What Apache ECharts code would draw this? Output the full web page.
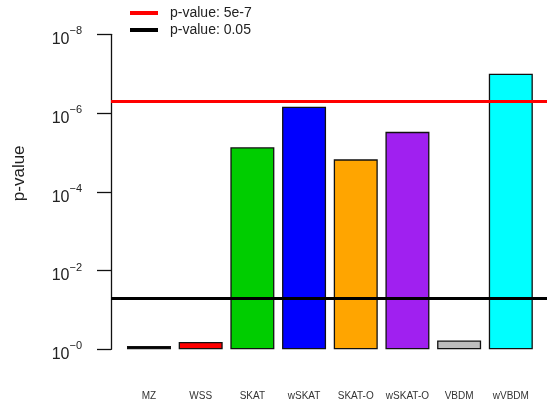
<!DOCTYPE html>
<html>
<head>
<meta charset="utf-8">
<script src="https://cdn.jsdelivr.net/npm/echarts@6/dist/echarts.min.js"></script>
<style>
  html, body { margin: 0; padding: 0; background: #fff; }
  #chart { width: 547px; height: 405px; }
</style>
</head>
<body>
<div id="chart"></div>
<script>
// Association test methods and their p-values
const methods = ['MZ', 'WSS', 'SKAT', 'wSKAT', 'SKAT-O', 'wSKAT-O', 'VBDM', 'wVBDM'];
const pValues = [0.82, 0.65, 7.4e-6, 6.9e-7, 1.5e-5, 3.0e-6, 0.60, 1.0e-7];
const barColors = ['#000000', '#ff0000', '#00cd00', '#0000ff', '#ffa500', '#a020f0', '#bebebe', '#00ffff'];

// Significance thresholds
const thresholdValues = [5e-7, 0.05];
const thresholdNames = ['p-value: 5e-7', 'p-value: 0.05'];
const thresholdColors = ['#ff0000', '#000000'];

// Y axis ticks (powers of ten)
const yTickExponents = [-8, -6, -4, -2, 0];

const chart = echarts.init(document.getElementById('chart'), null, { renderer: 'canvas' });

const font = '"Liberation Sans", Arial, Helvetica, sans-serif';

const barSeries = {
  type: 'bar',
  barWidth: 44,
  z: 2,
  data: pValues.map((p, i) => ({
    value: [i, p],
    itemStyle: { color: barColors[i], borderColor: '#111', borderWidth: 1.3 }
  }))
};

// Horizontal threshold lines, one series each so they appear in the legend
const lineSeries = thresholdValues.map((t, k) => ({
  type: 'line',
  name: thresholdNames[k],
  color: thresholdColors[k],
  data: [],
  z: 10,
  markLine: {
    silent: true,
    symbol: 'none',
    precision: 12,
    label: { show: false },
    lineStyle: { color: thresholdColors[k], width: 3.2, type: 'solid' },
    data: [{ yAxis: t }]
  }
}));

chart.setOption({
  animation: false,
  backgroundColor: '#fff',
  textStyle: { fontFamily: font },
  grid: { left: 111, right: 0, top: 34.3, bottom: 55.7, containLabel: false, outerBoundsMode: 'none' },
  legend: {
    orient: 'vertical',
    left: 125,
    top: 1,
    itemWidth: 28,
    itemHeight: 4,
    itemGap: 3,
    icon: 'rect',
    data: thresholdNames,
    textStyle: { fontSize: 14, color: '#222', fontFamily: font, padding: [0, 0, 0, 7] }
  },
  xAxis: {
    type: 'value',
    min: -0.735,
    max: 7.70,
    axisLine: { show: false },
    axisTick: { show: false },
    splitLine: { show: false },
    axisLabel: {
      customValues: methods.map((m, i) => i),
      formatter: v => methods[Math.round(v)],
      fontSize: 10,
      color: '#333',
      margin: 42,
      fontFamily: font
    }
  },
  yAxis: {
    type: 'log',
    logBase: 10,
    inverse: true,
    min: Math.pow(10, yTickExponents[0]),
    max: Math.pow(10, yTickExponents[yTickExponents.length - 1]),
    interval: 2,
    name: 'p-value',
    nameLocation: 'middle',
    nameGap: 83,
    nameRotate: 90,
    nameTextStyle: { fontSize: 17, color: '#222', fontFamily: font, padding: [0, 0, 0, 37] },
    axisLine: { show: true, onZero: false, lineStyle: { color: '#111', width: 1.3 } },
    axisTick: {
      show: true, inside: false, length: 14,
      lineStyle: { color: '#111', width: 1.3 }
    },
    splitLine: { show: false },
    axisLabel: {
      margin: 29,
      padding: [5, 0, 0, 0],
      formatter: v => {
        const e = Math.round(Math.log10(v));
        return '{b|10}{s|\u2212' + Math.abs(e) + '}';
      },
      rich: {
        b: { fontSize: 16, color: '#222', fontFamily: font, lineHeight: 22, verticalAlign: 'bottom' },
        s: { fontSize: 11, color: '#222', fontFamily: font, lineHeight: 22, verticalAlign: 'top' }
      }
    }
  },
  series: [barSeries].concat(lineSeries)
});
</script>
</body>
</html>
